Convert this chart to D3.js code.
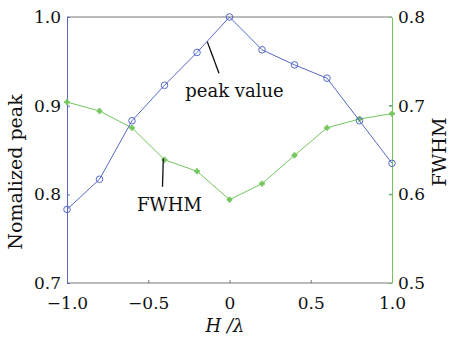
<!DOCTYPE html>
<html>
<head>
<meta charset="utf-8">
<script src="https://cdn.jsdelivr.net/npm/d3@7"></script>
<style>
  body { margin: 0; background: #fff; }
  text { font-family: "DejaVu Serif", serif; fill: #111; }
</style>
</head>
<body>
<div id="chart"></div>
<script>
// H/lambda positions
const hVals = [-1.0, -0.8, -0.6, -0.4, -0.2, 0, 0.2, 0.4, 0.6, 0.8, 1.0];
// normalized peak (left axis)
const peakVals = [0.783, 0.817, 0.883, 0.923, 0.960, 1.0, 0.963, 0.946, 0.931, 0.883, 0.835];
// FWHM (right axis)
const fwhmVals = [0.704, 0.694, 0.675, 0.639, 0.626, 0.594, 0.612, 0.644, 0.675, 0.685, 0.691];

const xTicks = [-1.0, -0.5, 0, 0.5, 1.0];
const xTickLabels = ["\u22121.0", "\u22120.5", "0", "0.5", "1.0"];
const leftTicks = [0.7, 0.8, 0.9, 1.0];
const rightTicks = [0.5, 0.6, 0.7, 0.8];

const blue = "#5668c6";
const green = "#74c65c";
const gray = "#777";

const W = 450, H = 342;
const margin = {top: 17, right: 58, bottom: 59, left: 67};
const w = W - margin.left - margin.right;
const h = H - margin.top - margin.bottom;

const svg = d3.select("#chart").append("svg")
    .attr("width", W)
    .attr("height", H);
const g = svg.append("g")
    .attr("transform", "translate(" + margin.left + "," + margin.top + ")");

const x = d3.scaleLinear().domain([-1, 1]).range([0, w]);
const yL = d3.scaleLinear().domain([0.7, 1.0]).range([h, 0]);
const yR = d3.scaleLinear().domain([0.5, 0.8]).range([h, 0]);

// box: top and bottom gray
g.append("line").attr("x1", 0).attr("x2", w).attr("y1", 0).attr("y2", 0)
    .attr("stroke", gray).attr("stroke-width", 1);
g.append("line").attr("x1", 0).attr("x2", w).attr("y1", h).attr("y2", h)
    .attr("stroke", gray).attr("stroke-width", 1);

// bottom axis (ticks inward)
const xAxis = d3.axisBottom(x).tickValues(xTicks).tickSizeInner(-3).tickSizeOuter(0)
    .tickFormat((d, i) => xTickLabels[i]).tickPadding(14);
const gx = g.append("g").attr("transform", "translate(0," + h + ")").call(xAxis);
gx.select(".domain").remove();
gx.selectAll(".tick line").attr("stroke", gray);
gx.selectAll(".tick text").attr("font-size", 17).attr("font-family", "DejaVu Serif").attr("fill", "#111");

// left axis
const yAxisL = d3.axisLeft(yL).tickValues(leftTicks).tickSizeInner(-3).tickSizeOuter(0)
    .tickFormat(d3.format(".1f")).tickPadding(6);
const gyl = g.append("g").call(yAxisL);
gyl.select(".domain").attr("stroke", blue);
gyl.selectAll(".tick line").attr("stroke", blue);
gyl.selectAll(".tick text").attr("font-size", 17).attr("font-family", "DejaVu Serif").attr("fill", "#111");

// mirrored left ticks on right side
g.append("g").selectAll("line").data(leftTicks.slice(1, 3)).join("line")
    .attr("x1", w - 3).attr("x2", w)
    .attr("y1", d => yL(d)).attr("y2", d => yL(d))
    .attr("stroke", blue);

// right axis
const yAxisR = d3.axisRight(yR).tickValues(rightTicks).tickSizeInner(-3).tickSizeOuter(0)
    .tickFormat(d3.format(".1f")).tickPadding(6);
const gyr = g.append("g").attr("transform", "translate(" + w + ",0)").call(yAxisR);
gyr.select(".domain").attr("stroke", green);
gyr.selectAll(".tick line").attr("stroke", green);
gyr.selectAll(".tick text").attr("font-size", 17).attr("font-family", "DejaVu Serif").attr("fill", "#111");

// FWHM series
const lineR = d3.line().x((d, i) => x(hVals[i])).y(d => yR(d));
g.append("path").datum(fwhmVals)
    .attr("d", lineR).attr("fill", "none").attr("stroke", green).attr("stroke-width", 1);
g.append("g").selectAll("path").data(fwhmVals).join("path")
    .attr("transform", (d, i) => "translate(" + x(hVals[i]) + "," + yR(d) + ")")
    .attr("d", d3.symbol().type(d3.symbolCross).size(14))
    .attr("fill", green).attr("stroke", green).attr("stroke-width", 0.8);

// peak series
const lineL = d3.line().x((d, i) => x(hVals[i])).y(d => yL(d));
g.append("path").datum(peakVals)
    .attr("d", lineL).attr("fill", "none").attr("stroke", blue).attr("stroke-width", 1);
g.append("g").selectAll("circle").data(peakVals).join("circle")
    .attr("cx", (d, i) => x(hVals[i])).attr("cy", d => yL(d))
    .attr("r", 3.3).attr("fill", "none").attr("stroke", blue).attr("stroke-width", 1);

// annotations
g.append("line")
    .attr("x1", 207.3 - margin.left).attr("y1", 41.7 - margin.top)
    .attr("x2", 219 - margin.left).attr("y2", 73.3 - margin.top)
    .attr("stroke", "#111").attr("stroke-width", 1.3);
g.append("text").attr("x", 234.5 - margin.left).attr("y", 97 - margin.top)
    .attr("text-anchor", "middle").attr("font-size", 18).text("peak value");

g.append("line")
    .attr("x1", 163.3 - margin.left).attr("y1", 158.5 - margin.top)
    .attr("x2", 162.5 - margin.left).attr("y2", 186.7 - margin.top)
    .attr("stroke", "#111").attr("stroke-width", 1.3);
g.append("text").attr("x", 202 - margin.left).attr("y", 211 - margin.top)
    .attr("text-anchor", "end").attr("font-size", 18).text("FWHM");

// axis labels
svg.append("text")
    .attr("transform", "translate(22,172) rotate(-90)")
    .attr("text-anchor", "middle").attr("font-size", 19).text("Nomalized peak");
svg.append("text")
    .attr("transform", "translate(446,152) rotate(-90)")
    .attr("text-anchor", "middle").attr("font-size", 19).text("FWHM");
svg.append("text")
    .attr("x", 225).attr("y", 332)
    .attr("text-anchor", "middle").attr("font-size", 18).attr("font-style", "italic")
    .text("H /\u03bb");
</script>
</body>
</html>
